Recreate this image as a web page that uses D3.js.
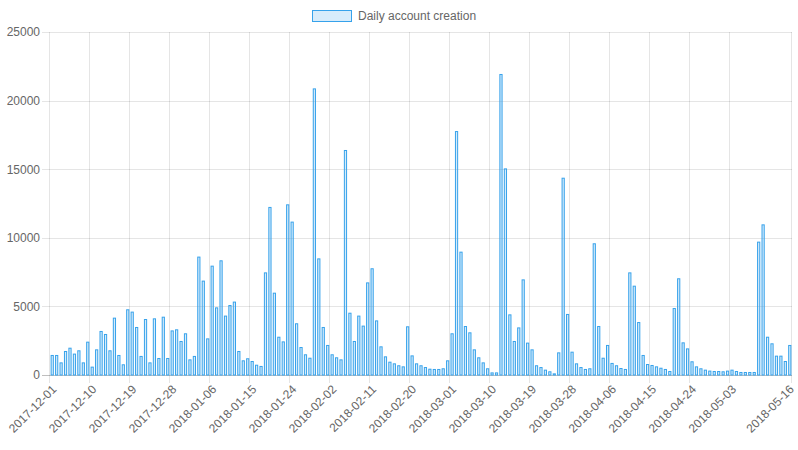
<!DOCTYPE html>
<html>
<head>
<meta charset="utf-8">
<script src="https://cdn.jsdelivr.net/npm/d3@7"></script>
<style>
  html, body { margin: 0; padding: 0; background: #fff; }
  svg { display: block; }
  text { font-family: "Liberation Sans", Arial, Helvetica, sans-serif; }
</style>
</head>
<body>
<svg id="chart" width="798" height="450"></svg>
<script>
const startDate = "2017-12-01";
const dayCount = 167;
const seriesName = "Daily account creation";
const values = [
  1460, 1460, 920, 1750, 1990, 1560, 1800, 920, 2430, 610,
  1870, 3210, 2990, 1800, 4180, 1460, 780, 4790, 4620, 3500,
  1390, 4080, 920, 4130, 1240, 4250, 1240, 3250, 3330, 2480,
  3040, 1140, 1390, 8630, 6880, 2670, 7970, 4930, 8360, 4330,
  5100, 5350, 1750, 1070, 1220, 1020, 750, 660, 7480, 12250,
  6000, 2790, 2450, 12440, 11180, 3770, 2040, 1510, 1260, 20890,
  8500, 3500, 2190, 1510, 1290, 1140, 16400, 4540, 2480, 4330,
  3600, 6750, 7780, 3980, 2090, 1360, 970, 850, 710, 630,
  3550, 1430, 850, 710, 580, 460, 440, 440, 490, 1070,
  3040, 17780, 8990, 3570, 3110, 1870, 1290, 920, 490, 190,
  190, 21940, 15060, 4420, 2480, 3470, 6970, 2360, 1870, 710,
  580, 390, 270, 120, 1650, 14380, 4450, 1700, 850, 580,
  440, 490, 9600, 3570, 1260, 2190, 880, 710, 510, 440,
  7480, 6510, 3860, 1460, 800, 730, 630, 530, 440, 290,
  4880, 7050, 2380, 1940, 1000, 630, 490, 390, 320, 290,
  290, 270, 320, 390, 290, 220, 220, 220, 220, 9720,
  10980, 2790, 2310, 1410, 1410, 1020, 2190
];
const yTicks = [0, 5000, 10000, 15000, 20000, 25000];

// build category labels (dates)
const fmt = d3.utcFormat("%Y-%m-%d");
const start = new Date(startDate + "T00:00:00Z");
const dates = d3.range(dayCount).map(i => fmt(d3.utcDay.offset(start, i)));
const data = dates.map((d, i) => ({ date: d, value: values[i] }));

const svg = d3.select("#chart");
const W = 798, H = 450;
const m = { left: 50, right: 6, top: 32, bottom: 75 };
const x0 = m.left, x1 = W - m.right, y0 = H - m.bottom, y1 = m.top;

const x = d3.scaleBand().domain(dates).range([x0, x1]).paddingInner(0).paddingOuter(0);
const y = d3.scaleLinear().domain([0, 25000]).range([y0, y1]);

// which labels are shown (auto-skip every 9th, hide the one too close to the end, show last)
const skip = 9;
const shown = new Set();
dates.forEach((d, i) => {
  if (i === dates.length - 1) { shown.add(i); return; }
  if (i % skip === 0 && i + skip < dates.length) shown.add(i);
});

const grid = svg.append("g");
// horizontal grid
yTicks.forEach(t => {
  grid.append("line")
    .attr("x1", x0 - 8).attr("x2", x1)
    .attr("y1", Math.round(y(t)) + 0.5).attr("y2", Math.round(y(t)) + 0.5)
    .attr("stroke", t === 0 ? "rgba(0,0,0,0.25)" : "rgba(0,0,0,0.1)")
    .attr("stroke-width", 1);
});
// vertical grid
dates.forEach((d, i) => {
  if (!shown.has(i)) return;
  const gx = i === dates.length - 1 ? x1 : x(d);
  grid.append("line")
    .attr("x1", Math.round(gx) - 0.5).attr("x2", Math.round(gx) - 0.5)
    .attr("y1", y1).attr("y2", y0 + 8)
    .attr("stroke", "rgba(0,0,0,0.1)")
    .attr("stroke-width", 1);
});

// y labels
const yAxis = d3.axisLeft(y).tickValues(yTicks).tickSize(0).tickPadding(0).tickFormat(d3.format("d"));
const ya = svg.append("g").attr("transform", `translate(${x0 - 10},0)`).call(yAxis);
ya.select(".domain").remove();
ya.selectAll("text").attr("fill", "#666").attr("font-size", 12)
  .style("font-family", '"Liberation Sans", Arial, sans-serif');

// bars
const bw = x.bandwidth() * 0.72;
svg.append("g").selectAll("rect").data(data).join("rect")
  .attr("x", d => x(d.date) + (x.bandwidth() - bw) / 2 + 0.5)
  .attr("y", d => y(d.value) + 0.5)
  .attr("width", bw - 1)
  .attr("height", d => Math.max(0, y0 - y(d.value) - 0.5))
  .attr("fill", "rgba(54,162,235,0.2)")
  .attr("stroke", "rgb(54,162,235)")
  .attr("stroke-width", 1);

// x labels
const xl = svg.append("g");
dates.forEach((d, i) => {
  if (!shown.has(i)) return;
  const cx = x(d) + x.bandwidth() / 2;
  xl.append("text")
    .attr("transform", `translate(${cx + 2},${y0 + 12}) rotate(-45)`)
    .attr("text-anchor", "end")
    .attr("dy", "0.35em")
    .attr("fill", "#666")
    .attr("font-size", 12)
    .text(d);
});

// legend
const lg = svg.append("g");
lg.append("rect").attr("x", 312.5).attr("y", 10.5).attr("width", 39).attr("height", 11)
  .attr("fill", "rgba(54,162,235,0.2)").attr("stroke", "rgb(54,162,235)").attr("stroke-width", 1);
lg.append("text").attr("x", 358).attr("y", 16).attr("dy", "0.35em")
  .attr("fill", "#666").attr("font-size", 12).text(seriesName);
</script>
</body>
</html>
